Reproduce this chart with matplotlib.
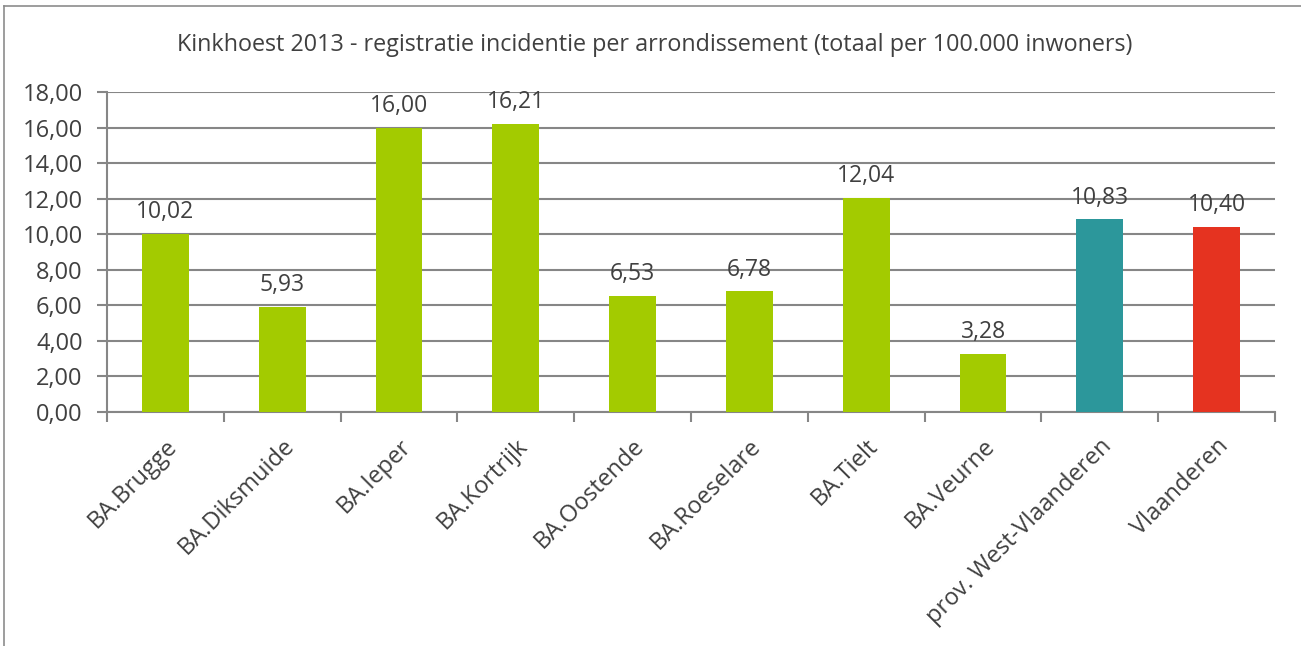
import matplotlib.pyplot as plt
from matplotlib.lines import Line2D
from matplotlib.ticker import FixedLocator, FuncFormatter

plt.rcParams['font.family'] = ['Open Sans', 'DejaVu Sans']

# data
categories = ['BA.Brugge', 'BA.Diksmuide', 'BA.Ieper', 'BA.Kortrijk', 'BA.Oostende',
              'BA.Roeselare', 'BA.Tielt', 'BA.Veurne', 'prov. West-Vlaanderen', 'Vlaanderen']
values = [10.02, 5.93, 16.00, 16.21, 6.53, 6.78, 12.04, 3.28, 10.83, 10.40]
colors = ['#A3CB00'] * 8 + ['#2C979B', '#E53320']

txt = '#404040'
grid = '#868686'

fig = plt.figure(figsize=(13.01, 6.46), dpi=100)
ax = fig.add_axes([107 / 1301, 1 - 412 / 646, (1275 - 107) / 1301, 320 / 646])

x = list(range(len(categories)))
bars = ax.bar(x, values, width=0.4, color=colors, zorder=3)

for b, v in zip(bars, values):
    ax.annotate(f'{v:.2f}'.replace('.', ','), (b.get_x() + b.get_width() / 2, v),
                xytext=(0, 7), textcoords='offset points', ha='center', va='bottom',
                fontsize=16.5, color=txt)

ax.set_xlim(-0.5, len(categories) - 0.5)
ax.set_ylim(0, 18)
ax.set_yticks(range(0, 19, 2))
ax.yaxis.set_major_formatter(FuncFormatter(lambda v, p: f'{v:.2f}'.replace('.', ',')))
ax.yaxis.grid(True, color=grid, linewidth=1.5, zorder=0)

ax.set_xticks(x)
ax.set_xticklabels(categories, rotation=45, ha='right', va='top', rotation_mode='anchor')
ax.xaxis.set_minor_locator(FixedLocator([i - 0.5 for i in range(len(categories) + 1)]))
ax.tick_params(axis='x', which='major', length=0, pad=16, labelsize=17, labelcolor=txt)
ax.tick_params(axis='x', which='minor', length=7, width=1.5, color=grid)
ax.tick_params(axis='y', length=7, width=1.5, color=grid, labelsize=17, labelcolor=txt, pad=10.5)

for s in ['top', 'right']:
    ax.spines[s].set_visible(False)
for s in ['left', 'bottom']:
    ax.spines[s].set_color(grid)
    ax.spines[s].set_linewidth(1.5)

fig.text(655 / 1301, 1 - 45 / 646, 'Kinkhoest 2013 - registratie incidentie per arrondissement (totaal per 100.000 inwoners)',
         ha='center', va='center', fontsize=16.8, color=txt)

# outer chart border
fig.add_artist(Line2D([4 / 1301, 4 / 1301], [0, 1 - 6 / 646], color='#8c8c8c', linewidth=1.2))
fig.add_artist(Line2D([4 / 1301, 1], [1 - 6 / 646, 1 - 6 / 646], color='#8c8c8c', linewidth=1.2))

fig.savefig('out.png', dpi=100)
